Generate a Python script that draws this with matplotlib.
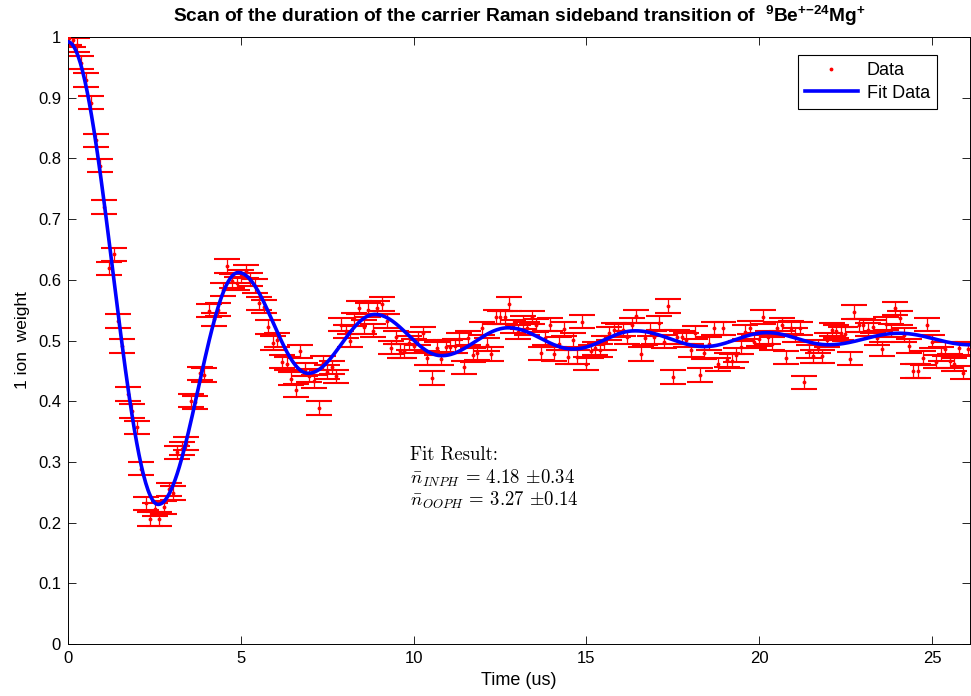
import numpy as np
import matplotlib
matplotlib.use("Agg")
import matplotlib.pyplot as plt

plt.rcParams["font.family"] = ["Liberation Sans", "DejaVu Sans"]
plt.rcParams["mathtext.fontset"] = "custom"
plt.rcParams["mathtext.rm"] = "Liberation Sans"
plt.rcParams["mathtext.it"] = "Liberation Sans:italic"
plt.rcParams["mathtext.bf"] = "Liberation Sans:bold"

# Measured ion weight versus pulse duration
time_us = [
    0.03, 0.14, 0.26, 0.37, 0.52, 0.67, 0.80, 0.93, 1.05, 1.20, 1.32, 1.46, 1.57, 1.73,
    1.84, 1.99, 2.11, 2.25, 2.38, 2.51, 2.64, 2.77, 2.91, 3.04, 3.16, 3.29, 3.41, 3.55,
    3.68, 3.82, 3.95, 4.08, 4.22, 4.35, 4.48, 4.61, 4.75, 4.88, 5.01, 5.14, 5.27, 5.40,
    5.54, 5.67, 5.80, 5.93, 6.06, 6.20, 6.33, 6.46, 6.59, 6.72, 6.85, 6.98, 7.12, 7.25,
    7.37, 7.50, 7.63, 7.76, 7.90, 8.03, 8.16, 8.28, 8.42, 8.56, 8.69, 8.82, 8.95, 9.09,
    9.22, 9.35, 9.48, 9.60, 9.73, 9.87, 10.00, 10.14, 10.27, 10.39, 10.52, 10.67, 10.79,
    10.93, 11.05, 11.19, 11.31, 11.45, 11.58, 11.72, 11.84, 11.98, 12.11, 12.24, 12.38,
    12.51, 12.64, 12.77, 12.89, 13.03, 13.16, 13.29, 13.42, 13.55, 13.68, 13.80, 13.95,
    14.07, 14.21, 14.34, 14.47, 14.60, 14.74, 14.86, 15.00, 15.13, 15.25, 15.39, 15.52,
    15.65, 15.79, 15.91, 16.05, 16.18, 16.31, 16.44, 16.58, 16.70, 16.84, 16.96, 17.10,
    17.24, 17.36, 17.50, 17.63, 17.76, 17.89, 18.02, 18.15, 18.29, 18.41, 18.55, 18.68,
    18.82, 18.94, 19.08, 19.20, 19.34, 19.46, 19.60, 19.73, 19.86, 19.98, 20.12, 20.25,
    20.38, 20.52, 20.65, 20.78, 20.91, 21.04, 21.17, 21.31, 21.44, 21.57, 21.70, 21.83,
    21.96, 22.10, 22.23, 22.36, 22.49, 22.62, 22.75, 22.89, 23.01, 23.15, 23.28, 23.41,
    23.54, 23.68, 23.80, 23.94, 24.07, 24.20, 24.33, 24.46, 24.60, 24.73, 24.86, 24.99,
    25.12, 25.25, 25.38, 25.51, 25.64, 25.77, 25.91, 26.03,
]
ion_weight = [
    0.998, 0.995, 0.987, 0.958, 0.929, 0.892, 0.830, 0.788, 0.720, 0.619, 0.642, 0.532, 0.491, 0.412,
    0.384, 0.357, 0.289, 0.232, 0.206, 0.222, 0.206, 0.225, 0.255, 0.249, 0.316, 0.322, 0.330, 0.401,
    0.398, 0.446, 0.443, 0.549, 0.535, 0.551, 0.584, 0.623, 0.598, 0.594, 0.606, 0.614, 0.600, 0.590,
    0.561, 0.556, 0.522, 0.496, 0.501, 0.465, 0.462, 0.437, 0.418, 0.482, 0.452, 0.442, 0.433, 0.389,
    0.463, 0.448, 0.456, 0.441, 0.526, 0.515, 0.500, 0.535, 0.554, 0.522, 0.550, 0.516, 0.554, 0.560,
    0.532, 0.488, 0.505, 0.483, 0.483, 0.496, 0.491, 0.503, 0.512, 0.471, 0.438, 0.487, 0.470,
    0.490, 0.490, 0.491, 0.502, 0.456, 0.504, 0.476, 0.479, 0.520, 0.493, 0.478, 0.539,
    0.538, 0.538, 0.560, 0.523, 0.514, 0.530, 0.520, 0.538, 0.525, 0.479, 0.504, 0.526,
    0.478, 0.495, 0.519, 0.473, 0.501, 0.473, 0.531, 0.462, 0.482, 0.487, 0.484, 0.496,
    0.512, 0.518, 0.516, 0.518, 0.505, 0.526, 0.540, 0.478, 0.504, 0.518, 0.505, 0.529,
    0.498, 0.557, 0.440, 0.506, 0.505, 0.501, 0.484, 0.513, 0.443, 0.480, 0.495, 0.520,
    0.461, 0.520, 0.468, 0.466, 0.476, 0.489, 0.514, 0.521, 0.498, 0.502, 0.539, 0.505,
    0.495, 0.520, 0.526, 0.472, 0.521, 0.509, 0.520, 0.431, 0.482, 0.474, 0.490, 0.474,
    0.501, 0.518, 0.515, 0.512, 0.511, 0.470, 0.547, 0.525, 0.525, 0.518, 0.523, 0.504,
    0.486, 0.528, 0.517, 0.553, 0.537, 0.509, 0.491, 0.450, 0.450, 0.471, 0.526, 0.498,
    0.465, 0.478, 0.486, 0.466, 0.461, 0.487, 0.447, 0.486,
]
weight_err = 0.011

# Turning points of the fitted curve
fit_turn_t = [0.0, 2.61, 4.93, 6.95, 8.88, 10.81, 12.74, 14.62, 16.41, 18.42, 20.22, 22.0, 24.05, 26.1]
fit_turn_v = [0.992, 0.230, 0.612, 0.446, 0.543, 0.475, 0.521, 0.486, 0.516, 0.490, 0.513, 0.493, 0.512, 0.493]

x_ticks = [0, 5, 10, 15, 20, 25]
y_ticks = [0, 0.1, 0.2, 0.3, 0.4, 0.5, 0.6, 0.7, 0.8, 0.9, 1]
y_tick_labels = ["0", "0.1", "0.2", "0.3", "0.4", "0.5", "0.6", "0.7", "0.8", "0.9", "1"]

# Smooth fitted curve: half-cosine swings between successive turning points
fit_t, fit_v = [], []
for i in range(len(fit_turn_t) - 1):
    t0, t1 = fit_turn_t[i], fit_turn_t[i + 1]
    v0, v1 = fit_turn_v[i], fit_turn_v[i + 1]
    s = np.linspace(0, 1, 80, endpoint=False)
    fit_t.append(t0 + (t1 - t0) * s)
    fit_v.append(v0 + (v1 - v0) * (1 - np.cos(np.pi * s)) / 2)
fit_t.append([fit_turn_t[-1]])
fit_v.append([fit_turn_v[-1]])
fit_t = np.concatenate(fit_t)
fit_v = np.concatenate(fit_v)

fig = plt.figure(figsize=(9.71, 6.96), dpi=100)
ax = fig.add_axes([0.070, 0.0747, 0.929, 0.8721])

ax.errorbar(time_us, ion_weight, yerr=weight_err, fmt="none", ecolor="red",
            elinewidth=0.9, capsize=9.5, capthick=1.5, zorder=2)
ax.plot(time_us, ion_weight, ".", color="red", markersize=3.5, label="Data", zorder=3)
ax.plot(fit_t, fit_v, "-", color="blue", linewidth=2.6, label="Fit Data", zorder=4)

ax.set_xlim(0, 26.1)
ax.set_ylim(0, 1)
ax.set_xticks(x_ticks)
ax.set_yticks(y_ticks)
ax.set_yticklabels(y_tick_labels)
ax.tick_params(direction="in", length=6, width=0.6, top=True, right=True,
               labelsize=12, pad=5)
for sp in ax.spines.values():
    sp.set_linewidth(0.7)

ax.set_xlabel("Time (us)", fontsize=13, labelpad=4)
ax.set_ylabel("1 ion  weight", fontsize=12.5, labelpad=6)
ax.set_title(r"Scan of the duration of the carrier Raman sideband transition of  "
             r"$\mathbf{^{9}Be^{+{-}24}Mg^{+}}$",
             fontsize=13.8, fontweight="bold", pad=11, math_fontfamily="custom")

ann_x = 9.9
serif = dict(family="cmr10", fontsize=13.5, ha="left", va="center", math_fontfamily="cm")
ax.text(ann_x, 0.311, "Fit Result:", **serif)
ax.text(ann_x, 0.273, r"$\bar{n}_{INPH}$ = 4.18 $\pm$0.34", **serif)
ax.text(ann_x, 0.236, r"$\bar{n}_{OOPH}$ = 3.27 $\pm$0.14", **serif)

leg = ax.legend(loc="upper right", bbox_to_anchor=(0.9634, 0.9703), borderaxespad=0,
                fancybox=False, framealpha=1, edgecolor="black", fontsize=13,
                handlelength=2.9, handletextpad=0.5, borderpad=0.4, labelspacing=0.3)
leg.get_frame().set_linewidth(0.8)

fig.savefig("out.png", dpi=100)
